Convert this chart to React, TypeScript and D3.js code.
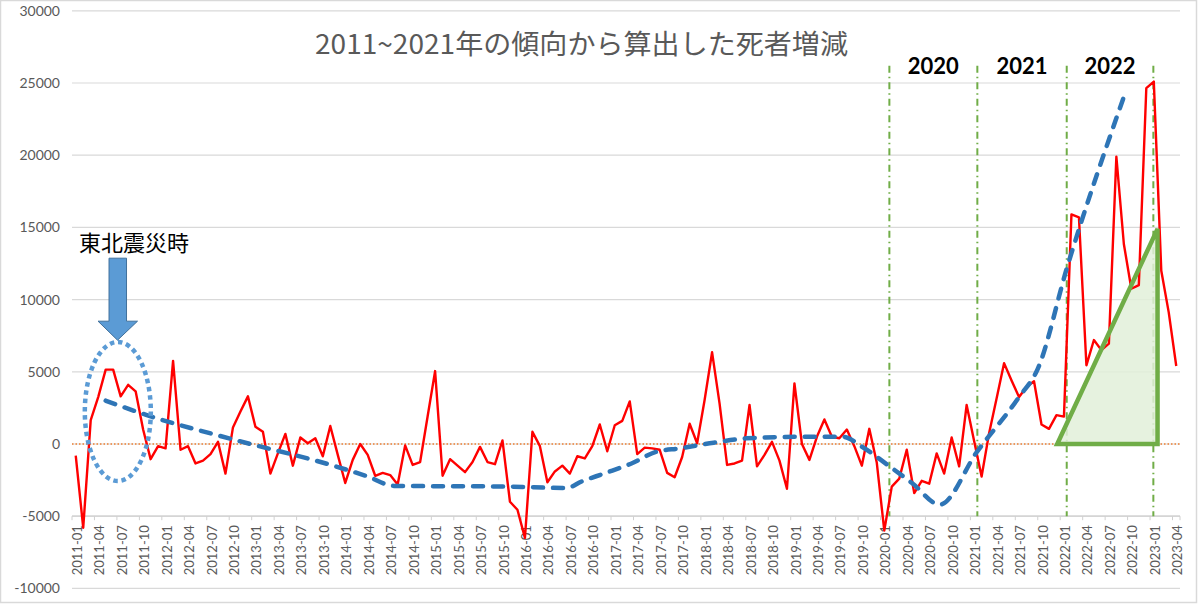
import React from 'react';
import * as d3 from 'd3';

// ---------- data ----------
const START_YEAR = 2011;
const N_MONTHS = 148;
const categories: string[] = d3.range(N_MONTHS).map(
  (i) => `${START_YEAR + Math.floor(i / 12)}-${String((i % 12) + 1).padStart(2, '0')}`
);

// monthly excess deaths vs 2011-2021 trend
const deaths: number[] = [
  -800, -5800, 1650, 3250, 5150, 5150, 3300, 4100, 3650, 1000, -1050, -150,
  -300, 5750, -400, -150, -1350, -1150, -700, 150, -2050, 1150, 2250, 3300,
  1200, 850, -2050, -650, 700, -1500, 450, 50, 400, -850, 1250, -750,
  -2700, -1100, 0, -750, -2200, -2000, -2150, -2800, -100, -1450, -1250, 1900,
  5050, -2200, -1050, -1500, -1950, -1250, -200, -1250, -1400, 250, -4000, -4550,
  -6500, 850, -150, -2650, -1900, -1500, -2050, -850, -1000, -150, 1350, -500,
  1300, 1600, 2950, -700, -250, -300, -400, -2000, -2300, -900, 1400, 50,
  3050, 6350, 2800, -1450, -1350, -1150, 2700, -1550, -750, 150, -1150, -3100,
  4200, 0, -1100, 500, 1700, 500, 400, 1000, -150, -1500, 1050, -1300,
  -6000, -2950, -2400, -400, -3400, -2550, -2750, -650, -2050, 450, -1550, 2700,
  200, -2250, 750, 3150, 5600, 4400, 3250, 3950, 4350, 1350, 1050, 2000,
  1900, 15900, 15700, 5450, 7200, 6500, 6950, 19900, 13850, 10750, 11000, 24650,
  25100, 12000, 9100, 5400,
];

// hand-drawn trend (blue dashed) : month index / value
const trendIdx: number[] = [4, 9.5, 21, 34.4, 39, 42.5, 58, 65.5, 67.6, 70.7, 74.3, 77.6, 80.7, 85.2, 89.6, 96.7, 102.5, 105, 108.6, 111.7, 115.4, 120.4, 126, 128.5, 132.4, 139.9];
const trendVal: number[] = [3000, 2000, 320, -1500, -2250, -2900, -2950, -3050, -2590, -2020, -1330, -530, -300, 90, 390, 500, 500, -180, -1510, -2700, -4200, -530, 3250, 5200, 12200, 23900];

const yTicks: number[] = [-10000, -5000, 0, 5000, 10000, 15000, 20000, 25000, 30000];

const eraLineIdx: number[] = [108.68, 120.43, 132.37, 143.94];
const eraLabels: string[] = ['2020', '2021', '2022'];

const triIdx: number[] = [131.1, 144.5, 144.5];
const triVal: number[] = [0, 0, 14900];

const TITLE = '2011~2021年の傾向から算出した死者増減';
const NOTE = '東北震災時';

// ---------- layout ----------
const W = 1200;
const H = 605;
const PL = 72;
const PR = 1180;

export default function App() {
  const x = d3.scaleLinear().domain([-0.5, N_MONTHS - 0.5]).range([PL, PR]);
  const y = d3.scaleLinear().domain([-10000, 30000]).range([588.4, 10.8]);

  const redLine = d3
    .line<number>()
    .x((_, i) => x(i))
    .y((d) => y(d))(deaths) as string;

  const trendPts: [number, number][] = trendIdx.map((t, i) => [t, trendVal[i]]);
  const trendLine = d3
    .line<[number, number]>()
    .x((d) => x(d[0]))
    .y((d) => y(d[1]))
    .curve(d3.curveMonotoneX)(trendPts) as string;

  const triPath =
    d3
      .line<number>()
      .x((d) => x(d))
      .y((_, i) => y(triVal[i]))(triIdx) + 'Z';

  const labelIdx = d3.range(0, N_MONTHS, 3);
  const tickPos = [...labelIdx.map((i) => i - 0.5), N_MONTHS - 0.5];

  const axisY = y(-5000);
  const numFont = 'Lato, "Liberation Sans", Arial, sans-serif';
  const jpFont = '"Noto Sans CJK JP", "Noto Sans", sans-serif';

  // annotation geometry (anchored to data coords)
  const ellCx = x(5.62);
  const ellCy = y(2250);
  const tipX = x(5.58);
  const tipY = y(7190);
  const arrow = [
    [tipX, tipY],
    [tipX - 19.5, tipY - 19],
    [tipX - 8.5, tipY - 19],
    [tipX - 8.5, tipY - 82],
    [tipX + 9, tipY - 82],
    [tipX + 9, tipY - 19],
    [tipX + 20, tipY - 19],
  ];

  return (
    <svg
      width={W}
      height={H}
      style={{ position: 'absolute', left: 0, top: 0, background: '#fff' }}
      fontFamily={numFont}
    >
      <rect x={0.5} y={0.5} width={W - 4} height={H - 3} fill="#fff" stroke="#D9D9D9" strokeWidth={1.5} />

      {/* gridlines */}
      {yTicks.map((t) => (
        <line key={'g' + t} x1={PL} x2={PR} y1={y(t)} y2={y(t)} stroke="#D9D9D9" strokeWidth={1.2} />
      ))}
      {/* y tick labels */}
      {yTicks.map((t) => (
        <text key={'yl' + t} x={60} y={y(t)} dy="0.35em" textAnchor="end" fontSize={14} fill="#595959">
          {t}
        </text>
      ))}

      {/* category axis at -5000 */}
      <line x1={PL} x2={PR} y1={axisY} y2={axisY} stroke="#D0D0D0" strokeWidth={1.2} />
      {tickPos.map((p) => (
        <line key={'t' + p} x1={x(p)} x2={x(p)} y1={axisY} y2={axisY + 4} stroke="#D0D0D0" strokeWidth={1} />
      ))}
      {labelIdx.map((i) => (
        <text
          key={'xl' + i}
          transform={`translate(${x(i) + 1.5},${axisY + 9}) rotate(-90)`}
          textAnchor="end"
          dy="0.35em"
          fontSize={13}
          fill="#595959"
        >
          {categories[i]}
        </text>
      ))}

      {/* zero line */}
      <line x1={PL} x2={PR} y1={y(0)} y2={y(0)} stroke="#ED7D31" strokeWidth={1.5} strokeDasharray="1.5 2" />

      {/* era lines */}
      {eraLineIdx.map((e) => (
        <line
          key={'e' + e}
          x1={x(e)}
          x2={x(e)}
          y1={y(26200)}
          y2={y(-5000)}
          stroke="#70AD47"
          strokeWidth={2}
          strokeDasharray="7 4 1.5 4"
        />
      ))}
      {eraLabels.map((l, i) => (
        <text
          key={'el' + l}
          x={(x(eraLineIdx[i]) + x(eraLineIdx[i + 1])) / 2}
          y={74}
          textAnchor="middle"
          fontSize={22}
          fontWeight="bold"
          fill="#000"
        >
          {l}
        </text>
      ))}

      {/* triangle fill */}
      <path d={triPath} fill="#E2F0D9" fillOpacity={0.85} stroke="none" />

      {/* data line */}
      <path d={redLine} fill="none" stroke="#FF0000" strokeWidth={2.4} strokeLinejoin="round" />

      {/* trend */}
      <path
        d={trendLine}
        fill="none"
        stroke="#2E75B6"
        strokeWidth={4.5}
        strokeDasharray="10 10"
        strokeLinecap="round"
      />

      {/* triangle outline */}
      <path d={triPath} fill="none" stroke="#70AD47" strokeWidth={4.5} strokeLinejoin="miter" />

      {/* ellipse around 2011 */}
      <ellipse
        cx={ellCx}
        cy={ellCy}
        rx={33}
        ry={69.5}
        fill="none"
        stroke="#5B9BD5"
        strokeWidth={4.5}
        strokeDasharray="4.5 3.8"
      />

      {/* arrow */}
      <polygon points={arrow.map((p) => p.join(',')).join(' ')} fill="#5B9BD5" stroke="#41719C" strokeWidth={1} />
      <text x={79} y={251} fontFamily={jpFont} fontSize={22} fill="#000">
        {NOTE}
      </text>

      {/* title */}
      <text
        x={581.5}
        y={54}
        textAnchor="middle"
        fontFamily={jpFont}
        fontSize={27}
        fill="#595959"
        textLength={533}
        lengthAdjust="spacingAndGlyphs"
      >
        {TITLE}
      </text>
    </svg>
  );
}
